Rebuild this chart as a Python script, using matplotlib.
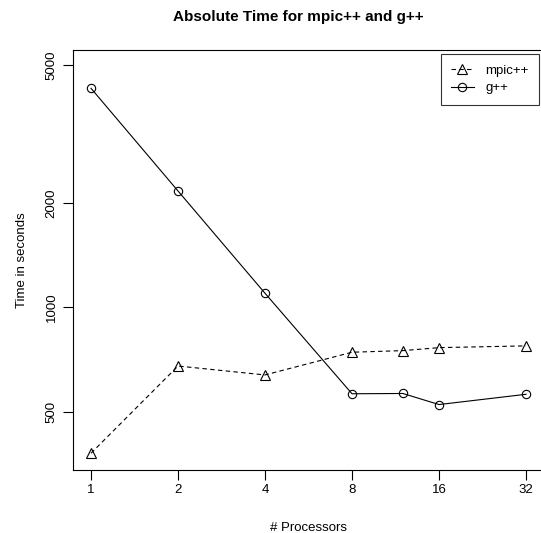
import matplotlib.pyplot as plt
from matplotlib.ticker import NullLocator

plt.rcParams['font.family'] = ['Liberation Sans', 'DejaVu Sans']

procs = [1, 2, 4, 8, 12, 16, 32]
mpic_times = [380, 678, 639, 743, 751, 766, 775]
gpp_times = [4284, 2167, 1099, 564, 565, 525, 562]
xtick_vals = [1, 2, 4, 8, 16, 32]
ytick_vals = [500, 1000, 2000, 5000]

fig = plt.figure(figsize=(5.41, 5.33), dpi=100)
ax = fig.add_axes([73 / 541, 1 - 470 / 533, (543.4 - 73) / 541, 420 / 533])

ax.plot(procs, mpic_times, color='black', linestyle=(0, (4, 3)), linewidth=0.8,
        marker='^', markersize=7, markerfacecolor='none', markeredgewidth=0.8,
        label='mpic++')
ax.plot(procs, gpp_times, color='black', linestyle='-', linewidth=0.8,
        marker='o', markersize=6, markerfacecolor='none', markeredgewidth=0.8,
        label='g++')

ax.set_xscale('log', base=2)
ax.set_yscale('log')
ax.set_xlim(2 ** -0.207, 2 ** 5.2)
ax.set_ylim(340, 5524)

ax.xaxis.set_minor_locator(NullLocator())
ax.yaxis.set_minor_locator(NullLocator())
ax.set_xticks(xtick_vals)
ax.set_xticklabels([str(v) for v in xtick_vals])
ax.set_yticks(ytick_vals)
ax.set_yticklabels([str(v) for v in ytick_vals], rotation=90, va='center')
ax.tick_params(direction='out', length=7, width=0.8, labelsize=9.5)
ax.tick_params(axis='x', pad=3)
ax.tick_params(axis='y', pad=4)

for s in ax.spines.values():
    s.set_linewidth(0.8)

ax.set_xlabel('# Processors', fontsize=9.5, labelpad=19)
ax.set_ylabel('Time in seconds', fontsize=9.5, labelpad=13)
fig.text(298 / 541, 1 - 17 / 533, 'Absolute Time for mpic++ and g++',
         ha='center', va='center', fontsize=11, fontweight='bold')

leg = ax.legend(loc='upper right', fontsize=9.5, frameon=True, fancybox=False,
                borderaxespad=0.3, handlelength=1.7, handletextpad=0.9,
                labelspacing=0.4, borderpad=0.8)
leg.get_frame().set_edgecolor('black')
leg.get_frame().set_linewidth(0.8)

fig.savefig('out.png', dpi=100)
